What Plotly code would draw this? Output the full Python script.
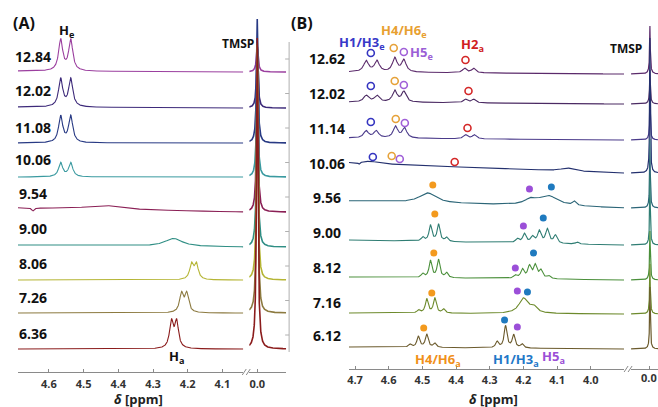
import numpy as np
import plotly.graph_objects as go

W, H = 658, 407

# ---------------- Panel A data ----------------
a_labels = ["12.84", "12.02", "11.08", "10.06", "9.54", "9.00", "8.06", "7.26", "6.36"]
# peaks: (ppm, intensity, half-width ppm)
a_peaks = [
    [(4.566, 31, 0.007), (4.537, 31, 0.007)],
    [(4.566, 28, 0.007), (4.537, 28, 0.007)],
    [(4.566, 26.5, 0.007), (4.537, 26.5, 0.007)],
    [(4.566, 14, 0.007), (4.537, 14, 0.007)],
    [(4.44, 4, 0.06), (4.646, -3, 0.004)],
    [(4.241, 8, 0.03)],
    [(4.189, 15.3, 0.0065), (4.175, 15.3, 0.0065)],
    [(4.218, 18.7, 0.0065), (4.203, 18.7, 0.0065)],
    [(4.247, 26.3, 0.0065), (4.232, 26.3, 0.0065)],
]
a_tmsp = [20, 55, 118, 120, 160, 195, 230, 265, 305]
a_tmsp_hump = [6, 7, 6, 5, 5, 5, 5, 5, 6]
a_ticks = [4.6, 4.5, 4.4, 4.3, 4.2, 4.1]

# ---------------- Panel B data ----------------
b_labels = ["12.62", "12.02", "11.14", "10.06", "9.56", "9.00", "8.12", "7.16", "6.12"]
b_peaks = [
    [(4.667, 11, 0.0085), (4.635, 11, 0.0085), (4.582, 14, 0.008), (4.555, 12, 0.008),
     (4.375, 4.5, 0.007), (4.348, 4.5, 0.007)],
    [(4.667, 6.5, 0.0085), (4.635, 6.5, 0.0085), (4.582, 11.5, 0.008), (4.555, 10.5, 0.008),
     (4.372, 3.5, 0.007), (4.348, 3.5, 0.007)],
    [(4.667, 7, 0.0085), (4.637, 7, 0.0085), (4.580, 11.5, 0.008), (4.553, 10, 0.008),
     (4.372, 4, 0.007), (4.346, 4, 0.007)],
    [(4.655, 2.5, 0.03), (4.688, -2, 0.003), (4.07, 3, 0.02)],
    [(4.484, 10, 0.03), (4.179, 5, 0.02), (4.126, 10, 0.035), (4.049, 4, 0.006)],
    [(4.499, 4, 0.005), (4.476, 16, 0.005), (4.452, 17, 0.005), (4.428, 4, 0.005),
     (4.218, 4, 0.006), (4.197, 9, 0.006), (4.173, 6, 0.006), (4.153, 12, 0.006),
     (4.129, 14, 0.006), (4.105, 8, 0.006), (4.040, 2, 0.005)],
    [(4.499, 4, 0.005), (4.476, 17, 0.005), (4.452, 18, 0.005), (4.428, 5, 0.005),
     (4.224, 3, 0.006), (4.203, 9, 0.006), (4.182, 12, 0.006), (4.165, 13, 0.006),
     (4.148, 8, 0.006), (4.125, 3, 0.006)],
    [(4.511, 3, 0.005), (4.487, 14, 0.005), (4.463, 15, 0.005), (4.437, 4, 0.005),
     (4.200, 15, 0.016), (4.170, 6, 0.012)],
    [(4.537, 3, 0.005), (4.512, 11, 0.005), (4.487, 13, 0.005), (4.463, 4, 0.005),
     (4.278, 6, 0.005), (4.253, 22, 0.005), (4.229, 13, 0.005), (4.204, 4, 0.005)],
]
b_tmsp = [43, 30, 40, 130, 65, 66, 45, 46, 58]
b_tmsp_hump = [5, 4, 4, 5, 4, 4, 4, 4, 4]
b_ticks = [4.7, 4.6, 4.5, 4.4, 4.3, 4.2, 4.1, 4.0, 3.9]

# assignment markers (ppm)
b_h13e = [4.653, 4.653, 4.653, 4.647]
b_h46e = [4.585, 4.582, 4.579, 4.591]
b_h5e = [4.555, 4.555, 4.552, 4.567]
b_h2a = [4.372, 4.363, 4.366, 4.404]
b_h46a = [4.469, 4.463, 4.466, 4.472, 4.496]
b_h5a = [4.182, 4.200, 4.224, 4.218, 4.218]
b_h13a = [4.117, 4.141, 4.170, 4.188, 4.256]

# ---------------- styles / layout (pixel rows) ----------------
a_colors = ["#9b3f9f", "#3d2a7a", "#283a84", "#3a9aa0", "#8a1f55", "#2f8e84", "#b5b535", "#8c7a40", "#8b1c1c"]
b_colors = ["#5b2a6b", "#4b2a63", "#4a3a8a", "#23306e", "#2b6577", "#2f7d73", "#4a8f3a", "#6d8a2c", "#6b5a2c"]
a_base_l = [71, 107, 143, 177, 208, 245, 280, 313, 349]
a_base_r = [72, 108, 143, 177, 212, 247, 280, 313, 349]
b_base_l = [72, 102, 138, 163, 201, 240, 277, 313, 347]
b_base_r = [74, 104, 140, 173, 208, 245, 280, 314, 349]
a_lab_y = [56, 90, 127, 159, 193, 228, 263, 297, 333]
b_lab_y = [58, 93, 128, 163, 197, 232, 267, 302, 335]
b_e_y = {"h13": [53, 86, 122, 157], "h46": [48, 81, 119, 156], "h5": [52, 85, 123, 159], "h2": [60, 91, 128, 162]}
b_a_y = {"h46": [185, 214, 253, 293, 328], "h5": [189, 226, 268, 291, 327], "h13": [187, 218, 253, 292, 320]}

# axis geometry
A_MAIN = (16, 242, 4.689, 4.040)
A_SMALL = (248, 285, 0.023, -0.083)
B_MAIN = (348, 624, 4.718, 3.901)
B_SMALL = (631, 658, 0.056, -0.024)
A_AX_ROW, B_AX_ROW = 372, 369


def lor(x, peaks):
    y = np.zeros_like(x)
    for p, h, w in peaks:
        y += h / (1 + ((x - p) / w) ** 2)
    return y


fig = go.Figure()
FONT = "Open Sans"


def add_panel(labels, peaks, tmsp, hump, colors, bl, br, main, small, xm, xs, tw, lw_small):
    xmain = np.linspace(main[2], main[3], 1500)
    xsm = np.linspace(small[2], small[3], 1200)
    for i in range(len(labels)):
        t = (xmain - main[2]) / (main[3] - main[2])
        base = bl[i] + (br[i] - bl[i]) * t
        ym = base - lor(xmain, peaks[i])
        fig.add_trace(go.Scatter(x=xmain, y=ym, xaxis=xm, yaxis="y", mode="lines",
                                 line=dict(color=colors[i], width=1.1), hoverinfo="skip"))
        ys = br[i] - lor(xsm, [(0.0, tmsp[i], tw), (0.0, hump[i], 0.005)])
        fig.add_trace(go.Scatter(x=xsm, y=ys, xaxis=xs, yaxis="y", mode="lines",
                                 line=dict(color=colors[i], width=lw_small), hoverinfo="skip"))


add_panel(a_labels, a_peaks, a_tmsp, a_tmsp_hump, a_colors, a_base_l, a_base_r,
          A_MAIN, A_SMALL, "x", "x2", 0.0024, 1.6)
add_panel(b_labels, b_peaks, b_tmsp, b_tmsp_hump, b_colors, b_base_l, b_base_r,
          B_MAIN, B_SMALL, "x3", "x4", 0.0011, 1.2)

# markers
def mk(xs, ys, color, filled):
    fig.add_trace(go.Scatter(
        x=xs, y=ys, xaxis="x3", yaxis="y", mode="markers", hoverinfo="skip",
        marker=dict(size=7, color=color if filled else "rgba(0,0,0,0)",
                    line=dict(color=color, width=1.6 if not filled else 0))))

mk(b_h13e, b_e_y["h13"], "#3535c0", False)
mk(b_h46e, b_e_y["h46"], "#e6a23a", False)
mk(b_h5e, b_e_y["h5"], "#a060d8", False)
mk(b_h2a, b_e_y["h2"], "#d42828", False)
mk(b_h46a, b_a_y["h46"], "#f39a1e", True)
mk(b_h5a, b_a_y["h5"], "#9b4fd8", True)
mk(b_h13a, b_a_y["h13"], "#1f7abf", True)


def dom(ax):
    return [ax[0] / W, ax[1] / W]


def xax(ax, ticks, row, standoff, labels=True):
    return dict(domain=dom(ax), range=[ax[2], ax[3]], anchor="free", position=1 - row / H,
                showgrid=False, zeroline=False, showline=True, linecolor="#8a8a8a", linewidth=1,
                ticks="inside", ticklen=3, tickcolor="#8a8a8a", tickvals=ticks, tickformat=".1f",
                showticklabels=labels, ticklabelstandoff=standoff,
                tickfont=dict(family=FONT, size=11, color="#333333", weight="bold"))


ann = []
def txt(x, y, s, size=14, color="#111111", xanchor="center"):
    ann.append(dict(x=x / W, y=y, xref="paper", yref="y", text=s, showarrow=False,
                    xanchor=xanchor, yanchor="middle",
                    font=dict(family=FONT, size=size, color=color, weight="bold")))

for lab, y in zip(a_labels, a_lab_y):
    txt(31, y, lab)
for lab, y in zip(b_labels, b_lab_y):
    txt(326, y, lab)

txt(22, 23, "(A)", size=16)
txt(301, 23, "(B)", size=16)
txt(65, 31, "H<sub>e</sub>", size=13)
txt(175, 357, "H<sub>a</sub>", size=13)
txt(237, 43, "TMSP", size=12)
txt(626, 48, "TMSP", size=12)
txt(361, 43, "H1/H3<sub>e</sub>", size=13, color="#3838c8")
txt(403, 31, "H4/H6<sub>e</sub>", size=13, color="#e8a030")
txt(421, 53, "H5<sub>e</sub>", size=13, color="#9b5fd6")
txt(472, 45, "H2<sub>a</sub>", size=13, color="#d02020")
txt(437, 360, "H4/H6<sub>a</sub>", size=13, color="#f0901a")
txt(516, 360, "H1/H3<sub>a</sub>", size=13, color="#1f78c8")
txt(553, 357, "H5<sub>a</sub>", size=13, color="#9b4fd6")
txt(137, 399, "<i>δ</i> [ppm]", size=13, color="#222222")
txt(493, 399, "<i>δ</i> [ppm]", size=13, color="#222222")
txt(649, 377, "0.0", size=11, color="#333333")

shapes = []
def seg(x0, y0, x1, y1, color="#8a8a8a", w=1):
    shapes.append(dict(type="line", xref="paper", yref="y", x0=x0 / W, x1=x1 / W, y0=y0, y1=y1,
                       line=dict(color=color, width=w)))

# axis break marks
seg(241, 375, 245, 369)
seg(245, 375, 249, 369)
seg(624, 372, 628, 366)
seg(628, 372, 632, 366)
# vertical axis line between panels
seg(288, 42, 288, 352, color="#b0b0b0")
for k in range(9):
    yy = 59 + 34.5 * k
    seg(284, yy, 288, yy, color="#b0b0b0")

fig.update_layout(
    width=W, height=H, margin=dict(l=0, r=0, t=0, b=0),
    paper_bgcolor="white", plot_bgcolor="white", showlegend=False,
    xaxis=xax(A_MAIN, a_ticks, A_AX_ROW, 2),
    xaxis2=xax(A_SMALL, [0.0], A_AX_ROW, 2),
    xaxis3=xax(B_MAIN, b_ticks, B_AX_ROW, 1),
    xaxis4=xax(B_SMALL, [0.0], B_AX_ROW, 1, labels=False),
    yaxis=dict(domain=[0, 1], range=[H, 0], visible=False, fixedrange=True),
    annotations=ann, shapes=shapes,
)

fig.write_html("out.html", config={"displayModeBar": False},
               post_script="document.body.style.margin='0px';")
